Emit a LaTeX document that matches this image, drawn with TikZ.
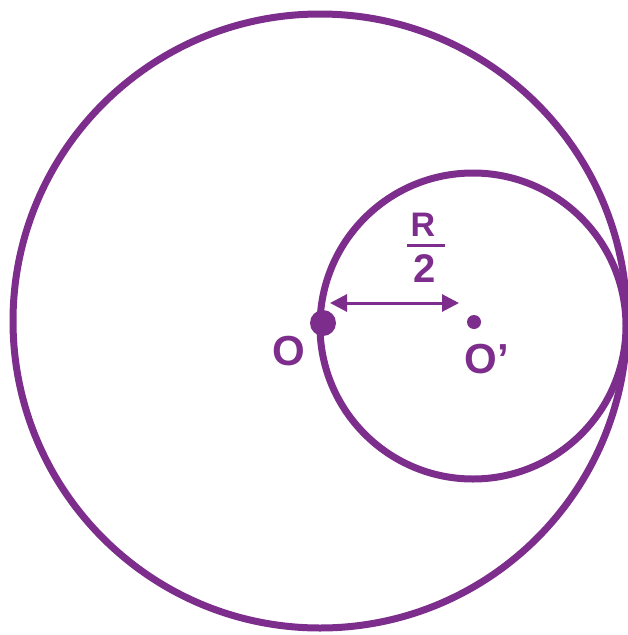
\documentclass[tikz,border=0pt]{standalone}
\usepackage{fontspec}
\setmainfont{Liberation Sans}
\usetikzlibrary{arrows.meta}
\definecolor{pur}{RGB}{125,45,140}
\begin{document}
\begin{tikzpicture}[x=1pt,y=-1pt,
  circ/.style={draw=pur,line width=7pt},
  lbl/.style={text=pur,font=\bfseries,inner sep=0pt}]
\useasboundingbox (0,0) rectangle (627,635);
\draw[circ] (320,321) circle (307);
\draw[circ] (473,326) circle (153);
\fill[pur] (323,323) circle (13);
\node[circle,fill=pur,inner sep=0pt,minimum size=14pt] (Op) at (474,322) {};
\coordinate (O) at (323,323);
\coordinate (A) at (330,303);
\coordinate (B) at (459,303);
\draw[pur,line width=3pt,{Triangle[length=17pt,width=17pt]}-{Triangle[length=17pt,width=17pt]}] (A) -- (B);
\node[lbl,font=\bfseries\fontsize{42}{42}\selectfont] (Olbl) at (289,351) {O};
\node[lbl,font=\bfseries\fontsize{42}{42}\selectfont] (Oplbl) at (487,359) {O’};
\node[lbl,font=\bfseries\fontsize{34}{34}\selectfont] (R) at (423,225) {R};
\node[lbl,font=\bfseries\fontsize{40}{40}\selectfont] (two) at (425,269) {2};
\draw[pur,line width=3pt] (407,245) -- (445,245);
\end{tikzpicture}
\end{document}
